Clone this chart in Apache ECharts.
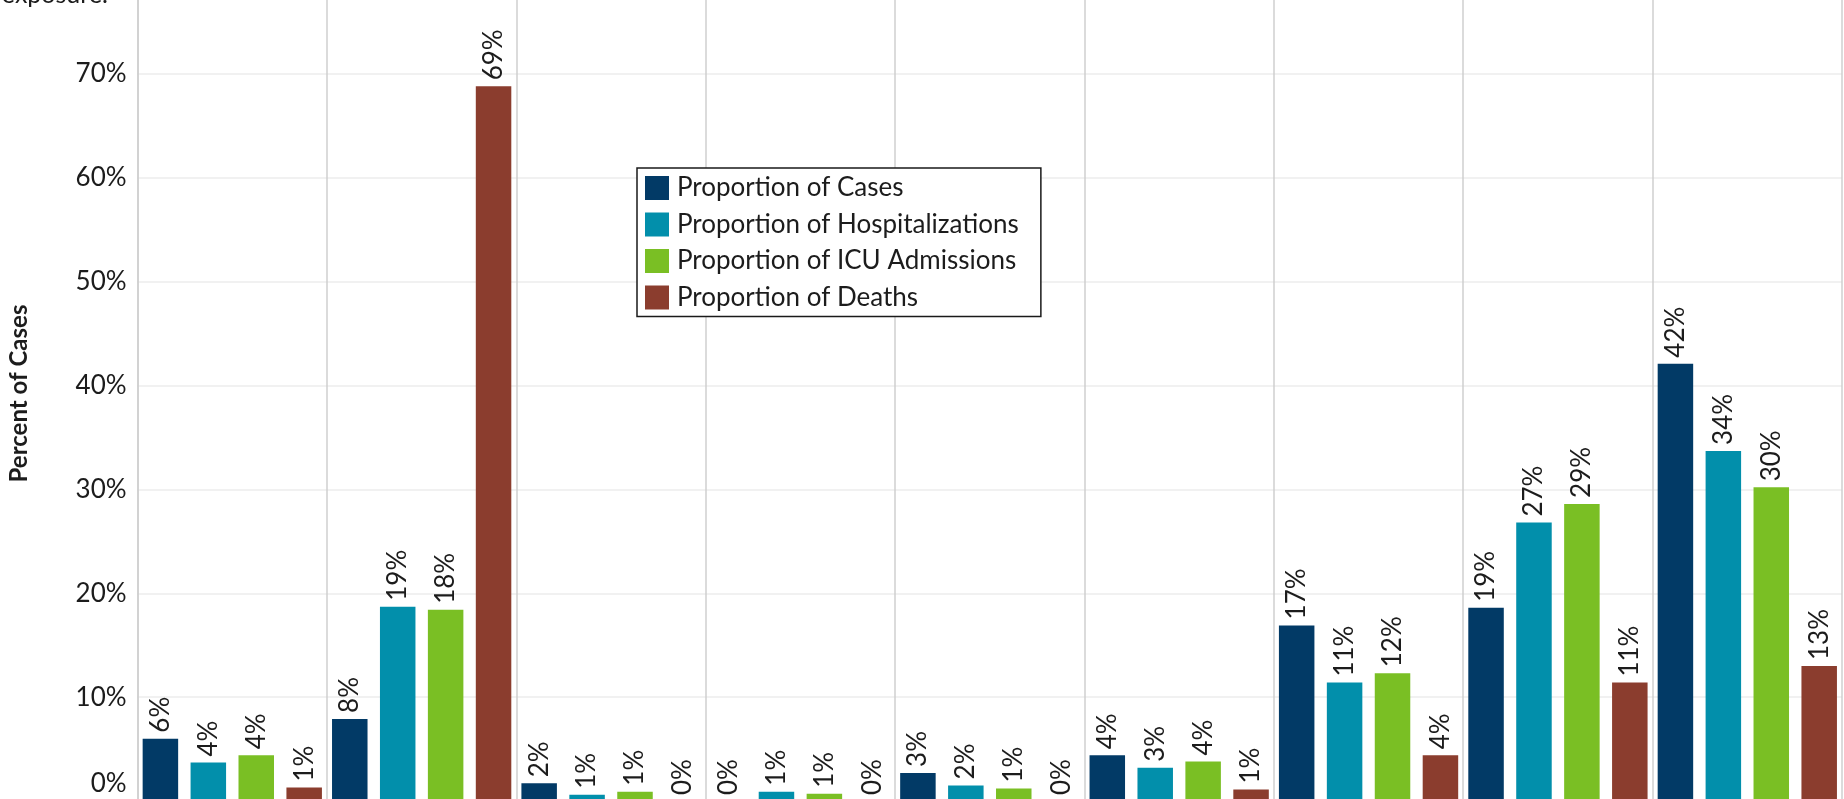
<!DOCTYPE html>
<html>
<head>
<meta charset="utf-8">
<script src="https://cdn.jsdelivr.net/npm/echarts@6/dist/echarts.min.js"></script>
<style>
  html, body { margin: 0; padding: 0; background: #fff; }
  #chart { width: 1844px; height: 799px; }
</style>
</head>
<body>
<div id="chart"></div>
<script>
// Exposure groups (axis labels sit below the visible plot area)
const exposureGroups = ['Group 1', 'Group 2', 'Group 3', 'Group 4', 'Group 5', 'Group 6', 'Group 7', 'Group 8', 'Group 9'];

// Percent of each outcome falling in each exposure group
const casesPct          = [6.0, 7.9, 1.7, 0.0, 2.7, 4.4, 16.9, 18.6, 42.1];
const hospitalPct       = [3.7, 18.7, 0.6, 0.9, 1.5, 3.2, 11.4, 26.8, 33.7];
const icuPct            = [4.4, 18.4, 0.9, 0.7, 1.2, 3.8, 12.3, 28.6, 30.2];
const deathsPct         = [1.3, 68.8, 0.0, 0.0, 0.0, 1.1, 4.4, 11.4, 13.0];

const seriesNames = ['Proportion of Cases', 'Proportion of Hospitalizations', 'Proportion of ICU Admissions', 'Proportion of Deaths'];
const seriesColors = ['#023a66', '#028fab', '#7abf24', '#8b3d2e'];
const seriesValues = [casesPct, hospitalPct, icuPct, deathsPct];

const FONT = 'Lato';
const TEXT = '#1c1c1c';

const chart = echarts.init(document.getElementById('chart'), null, { renderer: 'canvas' });

const series = seriesNames.map((name, i) => ({
  name,
  type: 'bar',
  data: seriesValues[i],
  barWidth: 35.5,
  barGap: '35%',
  itemStyle: { color: seriesColors[i] },
  label: {
    show: true,
    position: 'top',
    rotate: 90,
    align: 'left',
    verticalAlign: 'middle',
    distance: 6,
    fontFamily: FONT,
    fontSize: 26,
    color: TEXT,
    formatter: p => Math.round(p.value) + '%'
  }
}));

chart.setOption({
  animation: false,
  textStyle: { fontFamily: FONT },
  grid: { left: 137.6, right: 2, top: -30, bottom: -2, containLabel: false, outerBoundsMode: 'none' },
  graphic: [
    {
      type: 'text',
      x: 108,
      y: 7,
      style: {
        text: 'exposure.',
        font: '25px Lato',
        fill: TEXT,
        align: 'right',
        verticalAlign: 'bottom'
      }
    }
  ],
  legend: {
    orient: 'vertical',
    left: 637,
    top: 168,
    data: seriesNames,
    icon: 'rect',
    itemWidth: 24,
    itemHeight: 24,
    itemGap: 10.5,
    padding: [7, 22, 6, 8],
    backgroundColor: '#fff',
    borderColor: '#1a1a1a',
    borderWidth: 1.5,
    borderRadius: 0,
    selectedMode: false,
    textStyle: { fontFamily: FONT, fontSize: 26, color: TEXT, lineHeight: 24, padding: [0, 0, 0, 3] }
  },
  xAxis: {
    type: 'category',
    data: exposureGroups,
    boundaryGap: true,
    axisLine: { show: false },
    axisTick: { show: false },
    axisLabel: { show: false },
    splitLine: { show: true, lineStyle: { color: '#cfcfcf', width: 1.5 } }
  },
  yAxis: {
    type: 'value',
    min: 0,
    max: 80,
    interval: 10,
    name: 'Percent of Cases',
    nameLocation: 'middle',
    nameGap: 106,
    nameTextStyle: { fontFamily: FONT, fontSize: 24, fontWeight: 'bold', color: TEXT, padding: [0, 16, 0, 0] },
    axisLine: { show: true, lineStyle: { color: '#cfcfcf', width: 1.5 } },
    axisTick: { show: false },
    splitLine: { show: true, lineStyle: { color: '#ececec', width: 1.5 } },
    axisLabel: {
      margin: 11,
      fontFamily: FONT,
      fontSize: 26,
      color: TEXT,
      formatter: v => (v === 0 ? '{z|0%}' : v + '%'),
      rich: {
        z: { fontFamily: FONT, fontSize: 26, color: TEXT, padding: [0, 0, 34, 0] }
      }
    }
  },
  series
});
</script>
</body>
</html>
